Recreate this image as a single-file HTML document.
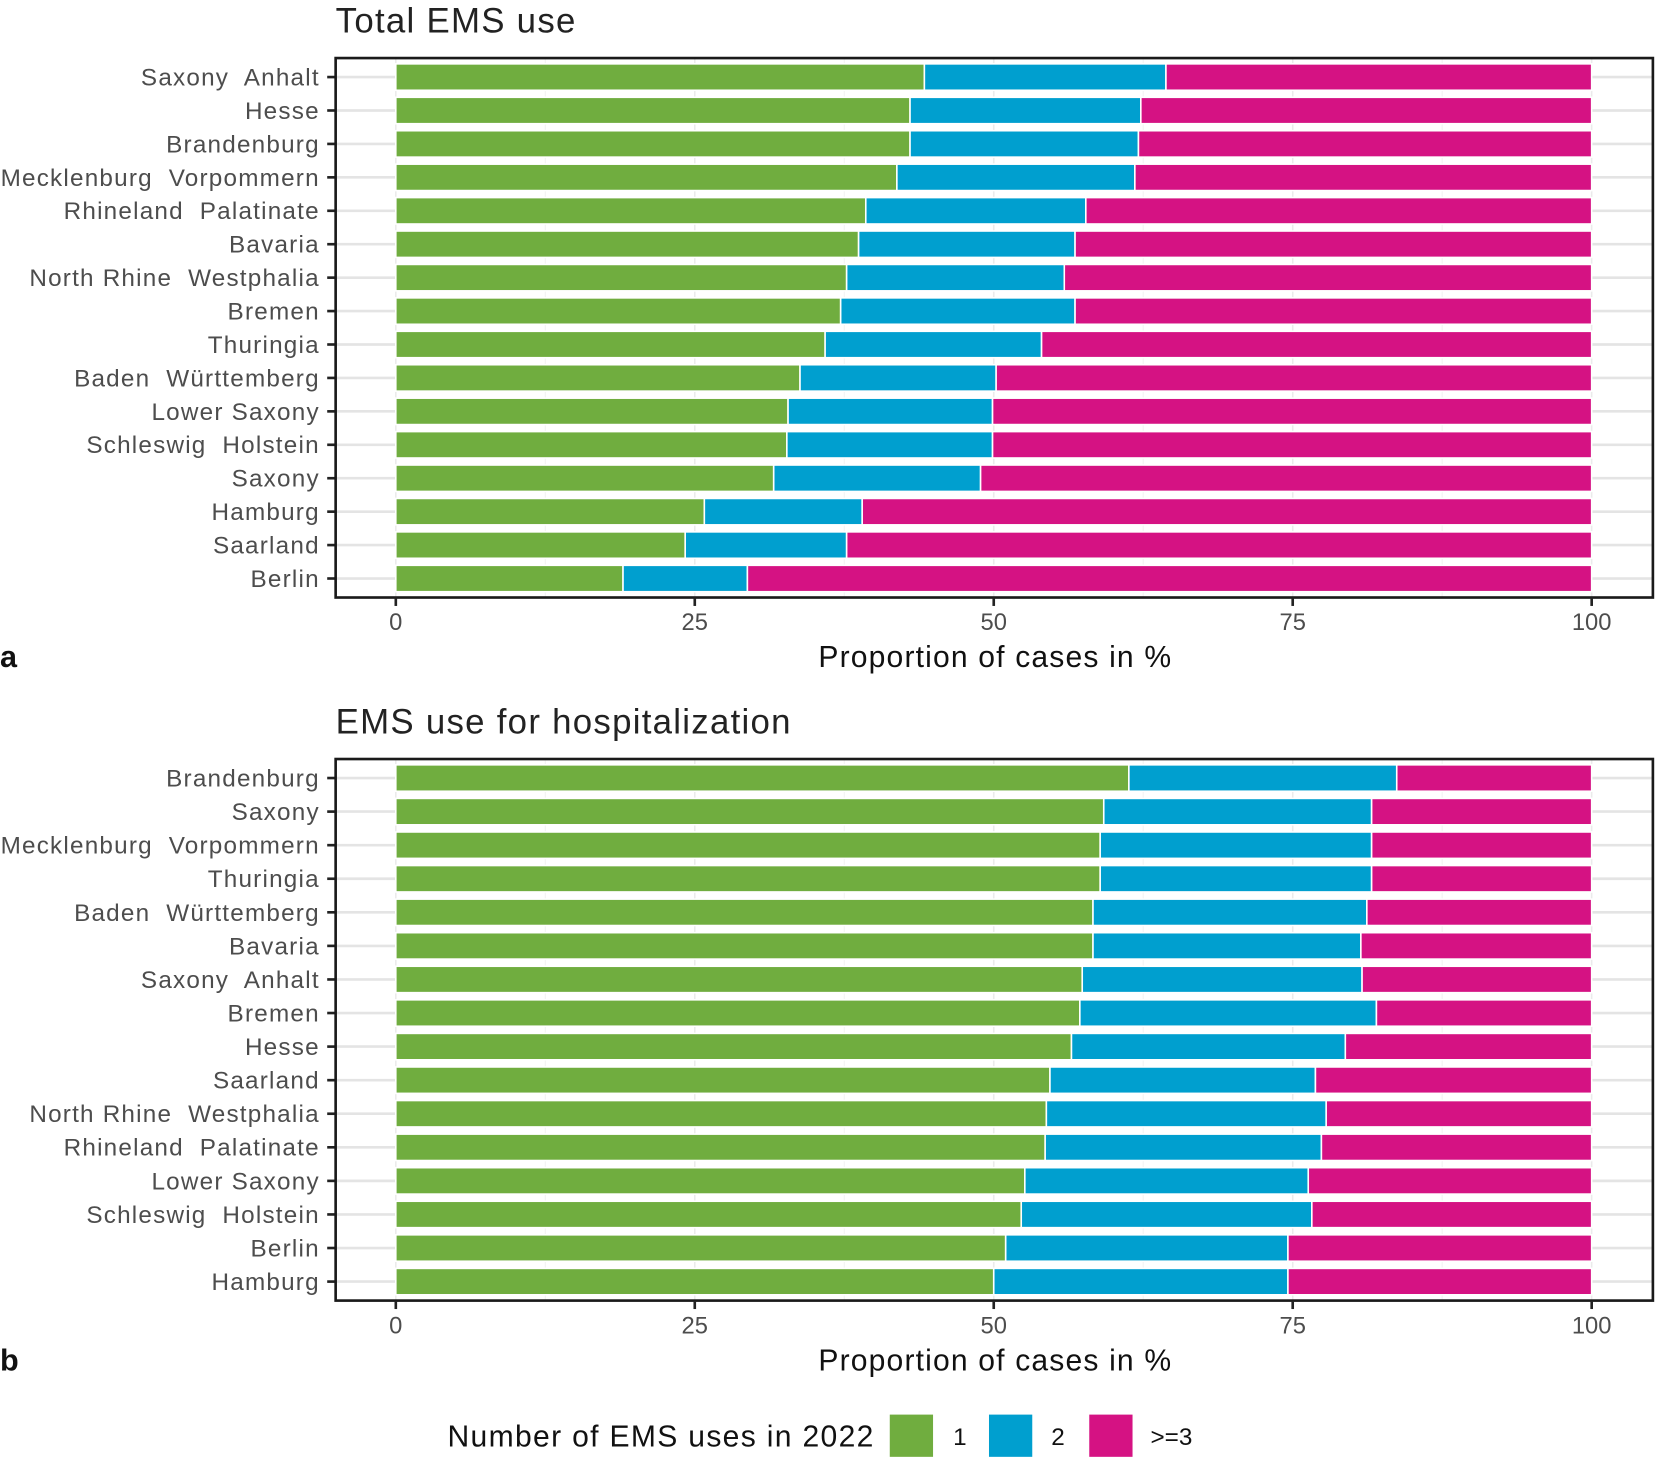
<!DOCTYPE html>
<html><head><meta charset="utf-8"><style>
html,body{margin:0;padding:0;background:#fff;}
svg text{font-family:"Liberation Sans",sans-serif;white-space:pre;}
</style></head><body>
<svg id="chart" width="1655" height="1460" viewBox="0 0 1568 1383" preserveAspectRatio="none" xmlns="http://www.w3.org/2000/svg"></svg>
<script>
const statesA = ["Saxony  Anhalt","Hesse","Brandenburg","Mecklenburg  Vorpommern","Rhineland  Palatinate","Bavaria","North Rhine  Westphalia","Bremen","Thuringia","Baden  Württemberg","Lower Saxony","Schleswig  Holstein","Saxony","Hamburg","Saarland","Berlin"];
const oneA = [44.2,43.0,43.0,41.9,39.3,38.7,37.7,37.2,35.9,33.8,32.8,32.7,31.6,25.8,24.2,19.0];
const twoA = [20.2,19.3,19.1,19.9,18.4,18.1,18.2,19.6,18.1,16.4,17.1,17.2,17.3,13.2,13.5,10.4];
const threeA = [35.6,37.7,37.9,38.2,42.3,43.2,44.1,43.2,46.0,49.8,50.1,50.1,51.1,61.0,62.3,70.6];

const statesB = ["Brandenburg","Saxony","Mecklenburg  Vorpommern","Thuringia","Baden  Württemberg","Bavaria","Saxony  Anhalt","Bremen","Hesse","Saarland","North Rhine  Westphalia","Rhineland  Palatinate","Lower Saxony","Schleswig  Holstein","Berlin","Hamburg"];
const oneB = [61.3,59.2,58.9,58.9,58.3,58.3,57.4,57.2,56.5,54.7,54.4,54.3,52.6,52.3,51.0,50.0];
const twoB = [22.4,22.4,22.7,22.7,22.9,22.4,23.4,24.8,22.9,22.2,23.4,23.1,23.7,24.3,23.6,24.6];
const threeB = [16.3,18.4,18.4,18.4,18.8,19.3,19.2,18.0,20.6,23.1,22.2,22.6,23.7,23.4,25.4,25.4];

const xTicks = [0,25,50,75,100];
const colors = ["#70AD3F","#009FCF","#D51283"];
const legendLabels = ["1","2",">=3"];

const NS="http://www.w3.org/2000/svg";
const svg=document.getElementById('chart');
function mk(tag,attrs,parent){const e=document.createElementNS(NS,tag);for(const k in attrs)e.setAttribute(k,attrs[k]);(parent||svg).appendChild(e);return e;}
const X0=375,X100=1508;
function xs(v){return X0+(X100-X0)*v/100;}

function panel(key,title,letter,top,bottom,states,s1,s2,s3){
  const g=mk('g',{});
  
  
  const L=318,R=1566;
  const t=mk('text',{x:L,y:top-24,'font-size':33,'letter-spacing':1.2,fill:'#222'},g);t.textContent=title;
  
  
  const n=states.length;
  const y0=top+18, step=(bottom-top-36)/(n-1);
  function ys(i){return y0+i*step;}
  for(const v of [12.5,37.5,62.5,87.5]){mk('line',{x1:xs(v),x2:xs(v),y1:top,y2:bottom,stroke:'#f2f2f2','stroke-width':1},g);}
  for(const v of xTicks){mk('line',{x1:xs(v),x2:xs(v),y1:top,y2:bottom,stroke:'#ebebeb','stroke-width':1.5},g);}
  for(let i=0;i<n;i++){mk('line',{x1:L,x2:R,y1:ys(i),y2:ys(i),stroke:'#e4e4e4','stroke-width':2.5},g);}
  for(let i=0;i<n;i++){
    const vals=[s1[i],s2[i],s3[i]];let c=0;
    vals.forEach((v,j)=>{
      const r=mk('rect',{x:xs(c),y:ys(i)-12.5,width:xs(c+v)-xs(c),height:25,fill:colors[j],stroke:'#fff','stroke-width':1.5},g);
      
      
      c+=v;
    });
    const lb=mk('text',{x:303,y:ys(i)+8,'font-size':23,'letter-spacing':1.15,fill:'#4d4d4d','text-anchor':'end'},g);lb.textContent=states[i];
    
    
    mk('line',{x1:310,x2:318,y1:ys(i),y2:ys(i),stroke:'#222','stroke-width':2.5},g);
  }
  mk('rect',{x:L,y:top,width:R-L,height:bottom-top,fill:'none',stroke:'#1a1a1a','stroke-width':2.5},g);
  for(const v of xTicks){
    mk('line',{x1:xs(v),x2:xs(v),y1:bottom,y2:bottom+8,stroke:'#222','stroke-width':2.5},g);
    const tt=mk('text',{x:xs(v),y:bottom+31,'font-size':22.5,fill:'#4d4d4d','text-anchor':'middle'},g);tt.textContent=v;
    
    
  }
  const at=mk('text',{x:(L+R)/2+1,y:bottom+66,'font-size':28.5,'letter-spacing':1.1,fill:'#111','text-anchor':'middle'},g);at.textContent='Proportion of cases in %';
  
  
  const lt=mk('text',{x:0,y:bottom+66,'font-size':29,'font-weight':'bold',fill:'#111'},g);lt.textContent=letter;
  
  
}
panel('a','Total EMS use','a',55,566,statesA,oneA,twoA,threeA);
panel('b','EMS use for hospitalization','b',719,1232,statesB,oneB,twoB,threeB);

const lg=mk('g',{});


const ltt=mk('text',{x:424,y:1370,'font-size':28.5,'letter-spacing':1.25,fill:'#111'},lg);ltt.textContent='Number of EMS uses in 2022';


const bx=[843,937,1032], tx=[903,996,1090];
legendLabels.forEach((l,j)=>{
  const r=mk('rect',{x:bx[j],y:1340,width:41,height:40,fill:colors[j]},lg);
  
  
  const t=mk('text',{x:tx[j],y:1369,'font-size':23,fill:'#111'},lg);t.textContent=l;
  
  
});
</script>
</body></html>
